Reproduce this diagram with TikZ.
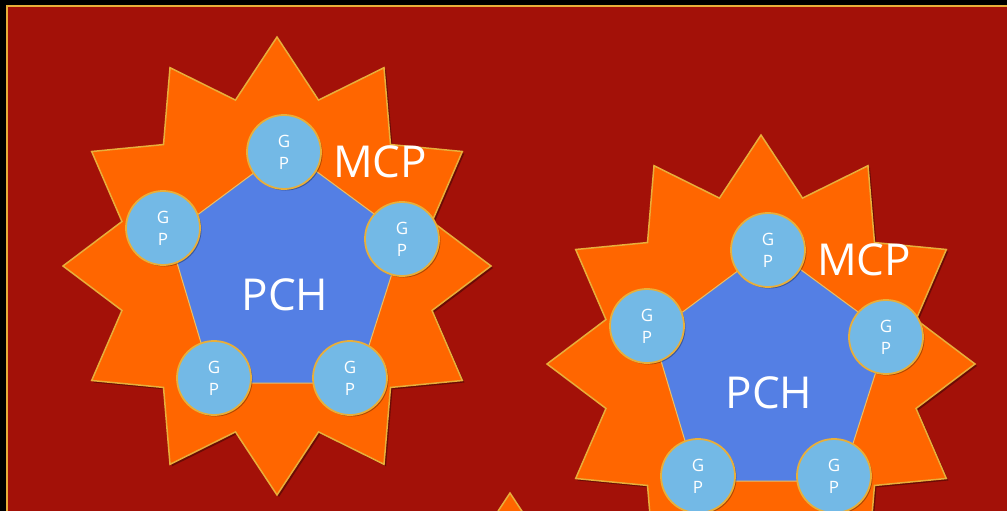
\documentclass[tikz,border=0pt]{standalone}
\usepackage{fontspec}
\setmainfont{Open Sans}
\usetikzlibrary{shadows}

\definecolor{bgred}{RGB}{163,17,8}
\definecolor{starorange}{RGB}{255,102,0}
\definecolor{rimgold}{RGB}{232,175,58}
\definecolor{pchblue}{RGB}{84,127,228}
\definecolor{gpblue}{RGB}{115,185,230}

\begin{document}
\begin{tikzpicture}
	[x=1pt, y=-1pt,
	 mcpstar/.style={fill=starorange, draw=rimgold, line width=1.5pt, line join=miter,
		drop shadow={shadow xshift=2pt, shadow yshift=-2pt, opacity=0.35, fill=black}},
	 pchgon/.style={fill=pchblue, draw=rimgold!80!white, line width=1pt},
	 gp/.style={circle, fill=gpblue, draw=rimgold, line width=1.8pt, minimum size=74pt, inner sep=0pt,
		align=center, text=white, font=\fontsize{17}{22}\selectfont,
		drop shadow={shadow xshift=1.5pt, shadow yshift=-1.5pt, opacity=0.3, fill=black}},
	 bigtext/.style={text=white, font=\fontsize{44}{50}\selectfont, inner sep=0pt}];

	\useasboundingbox (0,0) rectangle (1007,511);
	\clip (0,0) rectangle (1007,511);

	%Background
	\fill[black] (0,0) rectangle (1007,511);
	\draw[fill=bgred, draw=rimgold, line width=1.5pt] (7,6) rectangle (1030,540);

	%Third star, only its top point shows
	\begin{scope}[shift={(510,722)}]
		\draw[mcpstar] plot[domain=0:23, samples=24] ({214*(1-0.25*mod(\x,2))*cos(90+15*\x)}, {229*(1-0.25*mod(\x,2))*sin(90+15*\x)}) -- cycle;
	\end{scope}

	%MCP units
	\foreach \u/\dx/\dy in {1/0/0, 2/484/98}{
	\begin{scope}[shift={(\dx,\dy)}]
		\draw[mcpstar] plot[domain=0:23, samples=24] ({277+214*(1-0.25*mod(\x,2))*cos(90+15*\x)}, {266+229*(1-0.25*mod(\x,2))*sin(90+15*\x)}) -- cycle;

		\draw[pchgon] (286,149) -- (404,236) -- (357,383) -- (213,383) -- (169,236) -- cycle;
		\node[bigtext] (pch\u) at (285,295) {PCH};

		\node[gp] (gp\u-1) at (284,152) {G\\P};
		\node[gp] (gp\u-2) at (402,239) {G\\P};
		\node[gp] (gp\u-3) at (350,378) {G\\P};
		\node[gp] (gp\u-4) at (214,378) {G\\P};
		\node[gp] (gp\u-5) at (163,228) {G\\P};

		\node[bigtext] (mcp\u) at (380,162) {MCP};
	\end{scope}
	}
\end{tikzpicture}
\end{document}
